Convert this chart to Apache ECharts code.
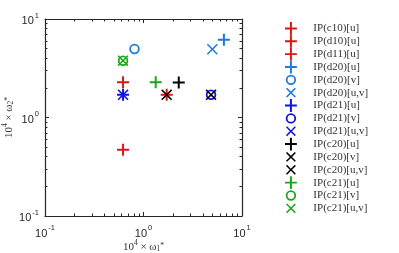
<!DOCTYPE html>
<html><head><meta charset="utf-8">
<script src="https://cdn.jsdelivr.net/npm/echarts@6/dist/echarts.min.js"></script>
<style>html,body{margin:0;padding:0;background:#fff}#c{width:399px;height:253px}</style>
</head><body><div id="c"></div>
<script>
// ---- data ----
const seriesNames = ['IP(c10)[u]','IP(d10)[u]','IP(d11)[u]','IP(d20)[u]','IP(d20)[v]','IP(d20)[u,v]','IP(d21)[u]','IP(d21)[v]','IP(d21)[u,v]','IP(c20)[u]','IP(c20)[v]','IP(c20)[u,v]','IP(c21)[u]','IP(c21)[v]','IP(c21)[u,v]'];
const omega1 = [0.62, 0.62, 1.72, 6.55, 0.81, 5.0, 0.62, 4.85, 0.62, 2.28, 1.72, 4.85, 1.33, 0.62, 0.62];
const omega2 = [2.28, 0.47, 1.7, 6.15, 4.96, 4.93, 1.7, 1.7, 1.7, 2.26, 1.7, 1.7, 2.28, 3.77, 3.77];
const markerKinds = ['plus','plus','plus','plus','circle','cross','plus','circle','cross','plus','cross','cross','plus','circle','cross'];
const seriesColors = ['#dd1515','#dd1515','#dd1515','#1f7ad8','#1f7ad8','#1f7ad8','#1212e0','#1212e0','#1212e0','#000000','#000000','#000000','#1ca51c','#1ca51c','#1ca51c'];
const majorTicks = [0.1, 1, 10];
const minorTicks = [0.2,0.3,0.4,0.5,0.6,0.7,0.8,0.9,2,3,4,5,6,7,8,9];

// ---- marker shapes ----
const chartSym = {
  plus: 'path://M0,0M13,13M5.5,0.5H7.5V5.5H12.5V7.5H7.5V12.5H5.5V7.5H0.5V5.5H5.5Z',
  cross: 'path://M0,0M13,13M1,2.1L2.1,1L6.5,5.4L10.9,1L12,2.1L7.6,6.5L12,10.9L10.9,12L6.5,7.6L2.1,12L1,10.9L5.4,6.5Z',
  circle: 'path://M0,0M13,13M6.5,1.25A5.25,5.25 0 1,1 6.5,11.75A5.25,5.25 0 1,1 6.5,1.25ZM6.5,3.05A3.45,3.45 0 1,0 6.5,9.95A3.45,3.45 0 1,0 6.5,3.05Z'
};
const legendSym = {
  plus: 'path://M0,0M24,13M5.5,0H7.5V5.5H12.5V7.5H7.5V13H5.5V7.5H0.5V5.5H5.5Z',
  cross: 'path://M0,0M24,13M1.5,2.6L2.6,1.5L6.5,5.4L10.4,1.5L11.5,2.6L7.6,6.5L11.5,10.4L10.4,11.5L6.5,7.6L2.6,11.5L1.5,10.4L5.4,6.5Z',
  circle: 'path://M0,0M24,13M6.5,1.25A5.25,5.25 0 1,1 6.5,11.75A5.25,5.25 0 1,1 6.5,1.25ZM6.5,3.05A3.45,3.45 0 1,0 6.5,9.95A3.45,3.45 0 1,0 6.5,3.05Z'
};

const axisColor = '#262626';
const tickRich = {
  b: {fontSize: 11, fontFamily: 'Liberation Sans, Arial, sans-serif', color: axisColor, lineHeight: 15, verticalAlign: 'bottom'},
  s: {fontSize: 7.5, fontFamily: 'Liberation Sans, Arial, sans-serif', color: axisColor, lineHeight: 15, verticalAlign: 'top', padding: [0,0,0,1]}
};
function tickFmt(v) {
  const e = Math.round(Math.log10(v));
  return '{b|10}{s|' + e + '}';
}
const nameRich = {
  n: {fontSize: 11, fontFamily: 'Liberation Serif, serif', color: '#333', verticalAlign: 'bottom', lineHeight: 14},
  sp: {fontSize: 7.5, fontFamily: 'Liberation Serif, serif', color: '#333', verticalAlign: 'top', lineHeight: 14},
  st: {fontSize: 7.5, fontFamily: 'Liberation Serif, serif', color: '#333', verticalAlign: 'top', lineHeight: 14, padding: [3,0,0,0]},
  sb: {fontSize: 7.5, fontFamily: 'Liberation Serif, serif', color: '#333', verticalAlign: 'bottom', lineHeight: 12}
};

function mkAxis(pos, ticks, len, main) {
  return {
    type: 'log', logBase: 10, min: 0.1, max: 10, position: pos, gridIndex: 0,
    axisLine: {show: main, onZero: false, lineStyle: {color: axisColor, width: 1.2}},
    axisTick: {show: true, inside: true, length: len, customValues: ticks, lineStyle: {color: axisColor, width: 1}},
    axisLabel: {show: false},
    splitLine: {show: false}, minorTick: {show: false}
  };
}
const xMain = mkAxis('bottom', majorTicks, 4, true);
xMain.axisLabel = {show: true, customValues: majorTicks, formatter: tickFmt, rich: tickRich, margin: 8};
xMain.name = '{n|10}{sp|4}{n| × ω}{sb|1}{st|*}';
xMain.nameLocation = 'middle';
xMain.nameGap = 23;
xMain.nameMoveOverlap = false;
xMain.nameTextStyle = {rich: nameRich};
const yMain = mkAxis('left', majorTicks, 4, true);
yMain.axisLabel = {show: true, customValues: majorTicks, formatter: tickFmt, rich: tickRich, margin: 6};
yMain.name = '{n|10}{sp|4}{n| × ω}{sb|2}{st|*}';
yMain.nameLocation = 'middle';
yMain.nameGap = 30;
yMain.nameTextStyle = {rich: nameRich};

const xAxes = [xMain, mkAxis('bottom', minorTicks, 2.5, false), mkAxis('top', majorTicks, 4, true), mkAxis('top', minorTicks, 2.5, false)];
const yAxes = [yMain, mkAxis('left', minorTicks, 2.5, false), mkAxis('right', majorTicks, 4, true), mkAxis('right', minorTicks, 2.5, false)];

const series = seriesNames.map((n, i) => ({
  name: n, type: 'scatter', xAxisIndex: 0, yAxisIndex: 0,
  symbol: chartSym[markerKinds[i]], symbolSize: 13,
  itemStyle: {color: seriesColors[i], opacity: 1},
  emphasis: {disabled: true},
  data: [[omega1[i], omega2[i]]],
  z: 2 + i * 0.01
}));

const chart = echarts.init(document.getElementById('c'), null, {renderer: 'canvas'});
chart.setOption({
  animation: false,
  backgroundColor: '#fff',
  grid: {left: 45, top: 19, width: 197, height: 197, containLabel: false, outerBoundsMode: 'none'},
  xAxis: xAxes,
  yAxis: yAxes,
  legend: {
    orient: 'vertical', left: 284.5, top: 22, padding: 0,
    itemWidth: 24, itemHeight: 12.85, itemGap: 0,
    selectedMode: false,
    textStyle: {fontSize: 11, fontFamily: 'Liberation Serif, serif', color: '#333', lineHeight: 12},
    data: seriesNames.map((n, i) => ({name: n, icon: legendSym[markerKinds[i]]}))
  },
  series: series
});
</script></body></html>
